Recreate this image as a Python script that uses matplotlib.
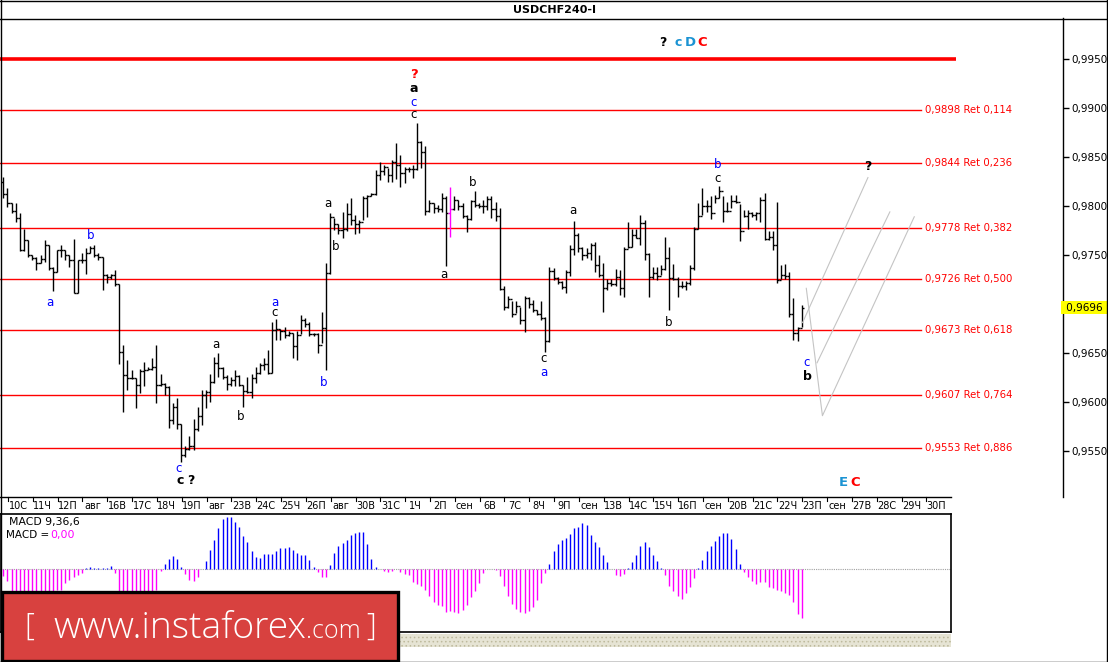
import matplotlib

matplotlib.use("Agg")
import matplotlib.pyplot as plt
import matplotlib.transforms as mtransforms
from matplotlib.collections import LineCollection
from matplotlib.lines import Line2D
from matplotlib.patches import Rectangle

W, H = 1108, 662

# --- USDCHF H4 bars (high / low / close), open = previous close ---
highs = [
    0.9830, 0.9818, 0.9803, 0.9803, 0.9793, 0.9777, 0.9765, 0.9750, 0.9748, 0.9750,
    0.9765, 0.9760, 0.9738, 0.9755, 0.9760, 0.9755, 0.9750, 0.9766, 0.9745, 0.9752,
    0.9757, 0.9759, 0.9760, 0.9752, 0.9748, 0.9731, 0.9731, 0.9735, 0.9720, 0.9658,
    0.9643, 0.9633, 0.9624, 0.9634, 0.9641, 0.9636, 0.9645, 0.9658, 0.9629, 0.9619,
    0.9616, 0.9599, 0.9604, 0.9578, 0.9555, 0.9565, 0.9583, 0.9595, 0.9612, 0.9612,
    0.9629,
    0.9646, 0.9650, 0.9636, 0.9628, 0.9626, 0.9633, 0.9628, 0.9617, 0.9626, 0.9629,
    0.9636, 0.9640, 0.9645, 0.9653, 0.9682, 0.9685, 0.9675, 0.9677, 0.9672, 0.9670,
    0.9672, 0.9689, 0.9686, 0.9682, 0.9670, 0.9670, 0.9692, 0.9742, 0.9793, 0.9788,
    0.9782, 0.9794, 0.9803, 0.9808, 0.9791, 0.9786, 0.9810, 0.9811, 0.9813, 0.9837,
    0.9845, 0.9842, 0.9839, 0.9847, 0.9864, 0.9852, 0.9840, 0.9840,
    0.9842, 0.9885, 0.9866, 0.9861, 0.9806, 0.9803, 0.9801, 0.9813, 0.9810, 0.9819,
    0.9810, 0.9806, 0.9803, 0.9791, 0.9806, 0.9815, 0.9803, 0.9806, 0.9810, 0.9810,
    0.9804, 0.9798, 0.9718, 0.9708, 0.9703, 0.9703, 0.9697, 0.9708, 0.9707, 0.9704,
    0.9694, 0.9703, 0.9687, 0.9738, 0.9737, 0.9728, 0.9723, 0.9735, 0.9760, 0.9785,
    0.9772, 0.9758, 0.9757, 0.9762, 0.9763, 0.9750, 0.9742, 0.9726,
    0.9726, 0.9736, 0.9735, 0.9758, 0.9784, 0.9777, 0.9777, 0.9791, 0.9786, 0.9752,
    0.9738, 0.9738, 0.9740, 0.9768, 0.9758, 0.9741, 0.9728, 0.9723, 0.9723, 0.9740,
    0.9779, 0.9803, 0.9818, 0.9806, 0.9810, 0.9811, 0.9820, 0.9810, 0.9804, 0.9811,
    0.9811, 0.9802, 0.9796, 0.9796, 0.9794, 0.9794, 0.9809, 0.9813, 0.9775, 0.9775,
    0.9804, 0.9740, 0.9741, 0.9733, 0.9706, 0.9677, 0.9699,
]
lows = [
    0.9808, 0.9799, 0.9793, 0.9784, 0.9754, 0.9754, 0.9748, 0.9745, 0.9735, 0.9742,
    0.9743, 0.9735, 0.9713, 0.9733, 0.9748, 0.9745, 0.9738, 0.9711, 0.9711, 0.9742,
    0.9731, 0.9752, 0.9748, 0.9745, 0.9714, 0.9721, 0.9726, 0.9718, 0.9639, 0.9590,
    0.9612, 0.9623, 0.9594, 0.9609, 0.9616, 0.9633, 0.9633, 0.9599, 0.9616, 0.9607,
    0.9573, 0.9578, 0.9572, 0.9539, 0.9544, 0.9551, 0.9551, 0.9570, 0.9577, 0.9594,
    0.9600,
    0.9619, 0.9626, 0.9623, 0.9612, 0.9616, 0.9616, 0.9616, 0.9595, 0.9609, 0.9604,
    0.9619, 0.9629, 0.9633, 0.9629, 0.9630, 0.9663, 0.9663, 0.9665, 0.9667, 0.9645,
    0.9643, 0.9669, 0.9677, 0.9667, 0.9667, 0.9650, 0.9660, 0.9633, 0.9731, 0.9776,
    0.9771, 0.9767, 0.9774, 0.9781, 0.9771, 0.9772, 0.9786, 0.9789, 0.9810, 0.9811,
    0.9827, 0.9832, 0.9825, 0.9825, 0.9828, 0.9819, 0.9823, 0.9835,
    0.9829, 0.9837, 0.9839, 0.9791, 0.9794, 0.9793, 0.9794, 0.9794, 0.9739, 0.9768,
    0.9796, 0.9796, 0.9788, 0.9773, 0.9786, 0.9799, 0.9798, 0.9793, 0.9796, 0.9788,
    0.9785, 0.9714, 0.9694, 0.9696, 0.9687, 0.9691, 0.9680, 0.9671, 0.9696, 0.9692,
    0.9689, 0.9684, 0.9651, 0.9661, 0.9725, 0.9720, 0.9715, 0.9711, 0.9729, 0.9750,
    0.9753, 0.9745, 0.9747, 0.9745, 0.9733, 0.9728, 0.9692, 0.9714,
    0.9718, 0.9718, 0.9709, 0.9707, 0.9757, 0.9758, 0.9767, 0.9760, 0.9745, 0.9707,
    0.9726, 0.9724, 0.9730, 0.9735, 0.9694, 0.9724, 0.9707, 0.9716, 0.9714, 0.9719,
    0.9735, 0.9777, 0.9791, 0.9794, 0.9787, 0.9803, 0.9808, 0.9784, 0.9794, 0.9798,
    0.9803, 0.9764, 0.9789, 0.9777, 0.9789, 0.9786, 0.9784, 0.9765, 0.9765, 0.9755,
    0.9721, 0.9726, 0.9726, 0.9687, 0.9663, 0.9662, 0.9677,
]
closes = [
    0.9812, 0.9803, 0.9795, 0.9788, 0.9755, 0.9765, 0.9750, 0.9747, 0.9742, 0.9746,
    0.9760, 0.9737, 0.9733, 0.9755, 0.9755, 0.9750, 0.9745, 0.9711, 0.9745, 0.9745,
    0.9752, 0.9757, 0.9750, 0.9748, 0.9730, 0.9728, 0.9730, 0.9720, 0.9651, 0.9628,
    0.9625, 0.9625, 0.9617, 0.9632, 0.9633, 0.9634, 0.9636, 0.9617, 0.9618, 0.9615,
    0.9582, 0.9595, 0.9578, 0.9546, 0.9552, 0.9555, 0.9572, 0.9586, 0.9607, 0.9610,
    0.9620,
    0.9640, 0.9635, 0.9626, 0.9618, 0.9622, 0.9627, 0.9617, 0.9611, 0.9610, 0.9625,
    0.9630, 0.9638, 0.9639, 0.9630, 0.9673, 0.9675, 0.9672, 0.9668, 0.9670, 0.9657,
    0.9668, 0.9684, 0.9680, 0.9669, 0.9669, 0.9658, 0.9676, 0.9732, 0.9789, 0.9782,
    0.9776, 0.9777, 0.9792, 0.9786, 0.9782, 0.9784, 0.9808, 0.9810, 0.9812, 0.9832,
    0.9836, 0.9840, 0.9832, 0.9845, 0.9842, 0.9834, 0.9838, 0.9838,
    0.9838, 0.9865, 0.9855, 0.9795, 0.9803, 0.9798, 0.9797, 0.9808, 0.9793, 0.9797,
    0.9806, 0.9800, 0.9790, 0.9787, 0.9805, 0.9801, 0.9800, 0.9800, 0.9807, 0.9797,
    0.9790, 0.9715, 0.9697, 0.9705, 0.9690, 0.9698, 0.9684, 0.9706, 0.9700, 0.9694,
    0.9690, 0.9686, 0.9662, 0.9734, 0.9727, 0.9722, 0.9717, 0.9733, 0.9756, 0.9770,
    0.9757, 0.9750, 0.9752, 0.9760, 0.9740, 0.9730, 0.9716, 0.9721,
    0.9720, 0.9728, 0.9716, 0.9756, 0.9758, 0.9770, 0.9767, 0.9783, 0.9751, 0.9728,
    0.9732, 0.9729, 0.9736, 0.9747, 0.9727, 0.9726, 0.9718, 0.9718, 0.9721, 0.9737,
    0.9777, 0.9790, 0.9800, 0.9800, 0.9793, 0.9808, 0.9815, 0.9795, 0.9795, 0.9805,
    0.9804, 0.9775, 0.9790, 0.9793, 0.9791, 0.9793, 0.9806, 0.9766, 0.9768, 0.9760,
    0.9725, 0.9730, 0.9729, 0.9690, 0.9670, 0.9676, 0.9696,
]
first_open = 0.9825
marked_bar = 108  # the magenta bar

# MACD 9,36,6 histogram (1e-5 units)
macd = [
    -20, -35, -70, -75, -80, -85, -88, -88, -85, -80, -75, -70, -66, -64, -62,
    -43, -33, -25, -18, -12, 4, 7, 4, 4, 2, 2, 9, -11,
    -70, -80, -85, -88, -88, -85, -80, -75, -70, -64,
    -5, 15, 30, 39, 30, 7, -16, -33, -35, -23, 0,
    24, 57, 87, 122, 150, 157, 155, 142, 127, 100, 80, 54, 37, 34, 44, 45, 45, 54,
    64, 64, 65, 57, 47, 42, 42, 27, 7, -10, -23, -23, 12, 47, 69, 77, 87, 102, 107,
    112, 112, 75, 29, 7,
    0, -5, -9, -7, 0, -8, -16, -18,
    -38, -45, -50, -62, -80, -100, -107, -112, -128, -125,
    -130, -133, -123, -107, -85, -65, -43, -13, 0, 0,
    -4, -20, -50, -80, -105, -121, -128, -133, -125, -115,
    -92, -43, -13, 15, 55, 75, 88, 93, 105, 123,
    127, 138, 132, 103, 82, 67, 43, 21, 0, -17,
    -20, -15, 4, 22, 43, 70, 80, 67, 43, 24,
    4, -17, -50, -65, -82, -90, -72, -53, -28, 2,
    28, 55, 70, 85, 100, 108, 108, 90, 60, 15,
    -10, -25, -35, -45, -40, -40, -55, -57, -62, -67,
    -73, -78, -100, -135, -146,
]

# Fibonacci retracement levels
fib_levels = [0.9898, 0.9844, 0.9778, 0.9726, 0.9673, 0.9607, 0.9553]
fib_ratios = ["0,114", "0,236", "0,382", "0,500", "0,618", "0,764", "0,886"]
target_level = 0.9950

# forecast path (bar index, price)
path_a_x = [194.1, 198.0, 220.2]
path_a_y = [0.9716, 0.9586, 0.9789]
path_b_x = [193.2, 209.0]
path_b_y = [0.9681, 0.9829]
path_c_x = [196.7, 214.3]
path_c_y = [0.9640, 0.9794]

day_labels = ["10С", "11Ч", "12П", "авг", "16В", "17С", "18Ч", "19П", "авг", "23В",
              "24С", "25Ч", "26П", "авг", "30В", "31С", "1Ч", "2П", "сен", "6В",
              "7С", "8Ч", "9П", "сен", "13В", "14С", "15Ч", "16П", "сен", "20В",
              "21С", "22Ч", "23П", "сен", "27В", "28С", "29Ч", "30П"]
bars_per_day = 6

# --- layout helpers (pixel coords, origin top-left) ---
X0, STEP = 3.3, 4.137


def fx(px):
    return px / W


def fy(py):
    return 1 - py / H


def idx_to_px(i):
    return X0 + i * STEP


def fig_line(xs, ys, **kw):
    fig.add_artist(Line2D([fx(x) for x in xs], [fy(y) for y in ys],
                          transform=fig.transFigure, **kw))


def label(x, y, s, color="black", bold=False, size=8.5):
    fig.text(fx(x), fy(y), s, color=color, fontsize=size, ha="center", va="center",
             fontweight="bold" if bold else "normal")


fig = plt.figure(figsize=(W / 100, H / 100), dpi=100)
fig.patch.set_facecolor("white")

# main price panel
ax = fig.add_axes([0, fy(497), fx(1063), (497 - 18) / H])
ax.set_xlim((0 - X0) / STEP, (1063 - X0) / STEP)
ax.set_ylim(0.9950 - (497 - 59) / 9800, 0.9950 + (59 - 18) / 9800)
for side in ["top", "left", "bottom"]:
    ax.spines[side].set_visible(False)
ax.spines["right"].set_linewidth(1)
ax.set_xticks([])
ax.yaxis.tick_right()
yt = [0.9550 + 0.005 * k for k in range(9)]
ax.set_yticks(yt)
ax.set_yticklabels(["" if abs(v - 0.97) < 1e-6 else f"{v:.4f}".replace(".", ",") for v in yt])
ax.tick_params(axis="y", direction="out", length=4, width=1, pad=2, labelsize=7.5)

# levels
ax.plot([ax.get_xlim()[0], (956 - X0) / STEP], [target_level] * 2, color="#ff0000", lw=2.6,
        solid_capstyle="butt")
for lev, r in zip(fib_levels, fib_ratios):
    ax.plot([ax.get_xlim()[0], (921 - X0) / STEP], [lev, lev], color="#ff0000", lw=1)
    ax.text((925 - X0) / STEP, lev, f"{lev:.4f}".replace(".", ",") + " Ret " + r,
            color="#ff0000", fontsize=7.3, ha="left", va="center")

# bars
opens = [first_open] + closes[:-1]
segs, cols = [], []
for i, (o, h, l, c) in enumerate(zip(opens, highs, lows, closes)):
    col = "#ff00ff" if i == marked_bar else "black"
    segs += [[(i, l), (i, h)], [(i - 0.5, o), (i, o)], [(i, c), (i + 0.5, c)]]
    cols += [col] * 3
ax.add_collection(LineCollection(segs, colors=cols, linewidths=1.0))

# forecast lines
for px_, py_ in [(path_a_x, path_a_y), (path_b_x, path_b_y), (path_c_x, path_c_y)]:
    ax.plot(px_, py_, color="#c4c4c4", lw=0.8)

# current price tag
tr = mtransforms.blended_transform_factory(ax.transAxes, ax.transData)
ax.text(1.0, closes[-1], " " + f"{closes[-1]:.4f}".replace(".", ",") + " ", transform=tr,
        ha="left", va="center", fontsize=7.5, clip_on=False, zorder=5,
        bbox=dict(boxstyle="square,pad=0.15", fc="#ffff00", ec="none"))

# MACD panel
mx = fig.add_axes([0, fy(632), fx(951), (632 - 514) / H])
mx.set_xlim((0 - X0) / STEP, (951 - X0) / STEP)
mx.set_ylim(-189, 165)
mx.set_xticks([])
mx.set_yticks([])
for s in mx.spines.values():
    s.set_linewidth(1.2)
mx.axhline(0, color="#a0a0a0", lw=0.8, ls=(0, (1, 1)))
xs = list(range(len(macd)))
mx.vlines([x for x, v in zip(xs, macd) if v > 0], 0, [v for v in macd if v > 0],
          color="#0000ff", lw=1)
mx.vlines([x for x, v in zip(xs, macd) if v < 0], 0, [v for v in macd if v < 0],
          color="#ff00ff", lw=1)
fig.text(fx(9), fy(522), "MACD 9,36,6", fontsize=7.8, va="center", ha="left")
fig.text(fx(6), fy(535), "MACD =", fontsize=7.5, va="center", ha="left")
fig.text(fx(50), fy(535), "0,00", fontsize=7.8, va="center", ha="left", color="#ff00ff")

# time axis
fig_line([0, 951], [497, 497], color="black", lw=1)
for k, d in enumerate(day_labels):
    tx = idx_to_px((8 - X0) / STEP + k * bars_per_day)
    fig_line([tx, tx], [497, 501], color="black", lw=0.8)
    fig.text(fx(tx + 10), fy(506), d, fontsize=7, ha="center", va="center")

# wave labels
blue, lblue, red = "#0000ff", "#1b93d3", "#ff0000"
label(414, 74, "?", red, True, 9.5)
label(414, 89, "a", "black", True, 9)
label(414, 102, "c", blue)
label(414, 115, "c")
label(91, 236, "b", blue)
label(50, 302, "a", blue)
label(179, 469, "c", blue)
label(180, 480, "c", "black", True, 9)
label(191, 480, "?", "black", True, 9)
label(216, 344, "a")
label(241, 416, "b")
label(275, 302, "a", blue)
label(275, 313, "c")
label(324, 382, "b", blue)
label(328, 203, "a")
label(336, 247, "b")
label(444, 275, "a")
label(473, 182, "b")
label(573, 211, "a")
label(544, 359, "c")
label(544, 373, "a", blue)
label(718, 165, "b", blue)
label(718, 179, "c")
label(669, 323, "b")
label(807, 362, "c", blue)
label(807, 377, "b", "black", True, 9)
label(868, 166, "?", "black", True, 9)
label(663, 43, "?", "black", True, 9)
label(678, 43, "c", lblue, True, 9)
label(690, 43, "D", lblue, True, 9.5)
label(702, 43, "C", red, True, 9.5)
label(843, 483, "E", lblue, True, 9.5)
label(855, 483, "C", red, True, 9.5)

# title bar and frame
fig.text(fx(555), fy(10), "USDCHF240-I", fontsize=8, fontweight="bold", ha="center", va="center")
fig_line([0, W], [18.5, 18.5], color="black", lw=1)
fig_line([0.5, 0.5], [0, H], color="black", lw=1)
fig_line([0, W], [0.5, 0.5], color="black", lw=1)
fig_line([1106.5, 1106.5], [0, H], color="black", lw=1)
fig_line([0, W], [661.5, 661.5], color="black", lw=1)

# hatched strip below MACD
plt.rcParams["hatch.linewidth"] = 0.6
fig.add_artist(Rectangle((fx(400), fy(647)), fx(951) - fx(400), (647 - 634) / H,
                         transform=fig.transFigure, fc="#e6e4d4", ec="#bdb99c",
                         hatch="....", lw=0, zorder=1))

# logo
fig.add_artist(Rectangle((fx(1.5), fy(661)), fx(398) - fx(1.5), (661 - 591.5) / H,
                         transform=fig.transFigure, fc="#d8413f", ec="black", lw=2.4, zorder=4))
fig.text(fx(29), fy(627), "[", color="white", fontsize=22, ha="center", va="center",
         family="Open Sans", fontweight="light", zorder=5)
t_main = fig.text(fx(53), fy(638), "www.instaforex", color="white", fontsize=26.8, ha="left",
                  va="baseline", family="Open Sans", fontweight="light", zorder=5)
r = fig.canvas.get_renderer()
x_end = t_main.get_window_extent(r).x1
fig.text(x_end / W, fy(638), ".com", color="white", fontsize=18, ha="left",
         va="baseline", family="Open Sans", fontweight="light", zorder=5)
fig.text(fx(371), fy(627), "]", color="white", fontsize=22, ha="center", va="center",
         family="Open Sans", fontweight="light", zorder=5)

fig.savefig("out.png", dpi=100)
